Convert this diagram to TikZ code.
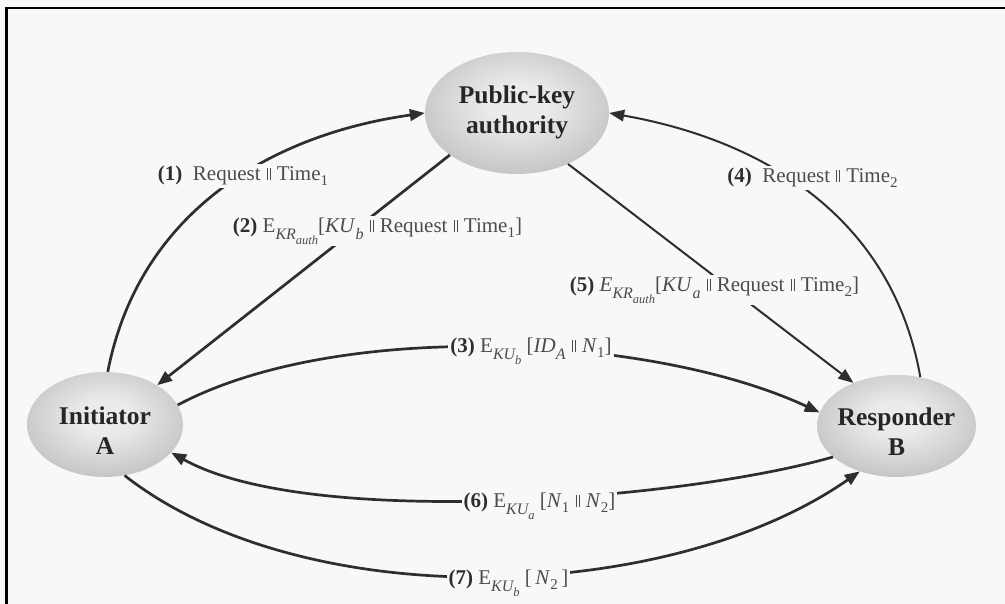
\documentclass[tikz,border=0pt]{standalone}
\usepackage{fontspec}
\setmainfont{Liberation Serif}
\usetikzlibrary{arrows.meta,shapes.geometric}

\definecolor{bg}{HTML}{F8F8F8}
\definecolor{ink}{HTML}{2E2E2E}
\definecolor{orbA}{HTML}{EBEBEB}
\definecolor{orbB}{HTML}{9C9C9C}

% soft grey sphere look for the three parties
\pgfdeclareradialshading{orb}{\pgfpoint{0bp}{4bp}}{%
  color(0bp)=(orbA); color(8bp)=(orbA); color(50bp)=(orbB); color(100bp)=(orbB)}

% small double bar used for concatenation
\newcommand\dbar{\hspace{0.3em}\raisebox{0.5pt}{\rule{0.8pt}{0.6em}}\hspace{2.2pt}\raisebox{0.5pt}{\rule{0.8pt}{0.6em}}\hspace{0.3em}}
% subscripts and second-level subscripts set at fixed sizes
\newcommand\sbs[1]{\raisebox{-0.3em}{\fontsize{16}{16}\selectfont #1}}
\newcommand\nsbs[1]{\raisebox{-0.22em}{\fontsize{15}{15}\selectfont #1}}
\newcommand\ssbs[1]{\raisebox{-0.3em}{\fontsize{12.5}{12.5}\selectfont #1}}
\newcommand\stepno[1]{{\bfseries\color{black!82}(#1)}}

\begin{document}
\begin{tikzpicture}[x=1pt,y=1pt,
  orbnode/.style={ellipse, inner sep=0pt, shading=orb, draw=none},
  orbtext/.style={align=center, inner sep=0pt, text=black!85,
    font=\fontsize{25.5}{30}\selectfont\bfseries},
  link/.style={draw=ink, -{Triangle[length=15pt,width=11.5pt]}},
  heavy/.style={link, line width=2.7pt},
  light/.style={link, line width=2pt},
  lab/.style={fill=bg, inner sep=2pt, anchor=base, text=black!70,
    font=\fontsize{21}{25}\selectfont},
  frameline/.style={line width=2.6pt, draw=black}]

\useasboundingbox (0,0) rectangle (1005,604);
\fill[bg] (0,0) rectangle (1005,604);
\draw[frameline] (6.5,0) -- (6.5,596) -- (1005,596);

% parties
\node[orbnode, minimum width=184pt, minimum height=122pt] (PK) at (517,491) {};
\node[orbtext] (PKt) at (517,492) {Public-key\\authority};
\node[orbnode, minimum width=156pt, minimum height=105pt] (A) at (105,179.5) {};
\node[orbtext] (At) at (105,173) {Initiator\\A};
\node[orbnode, minimum width=159pt, minimum height=102pt] (B) at (896.5,178) {};
\node[orbtext] (Bt) at (896.5,172) {Responder\\B};

% messages
\draw[heavy] (A.87) to[out=79,in=188] (PK.180);
\draw[heavy] (PK.212) -- (A.37);
\draw[heavy] (A.15) to[out=28,in=155,looseness=0.73] (B.170);
\draw[light] (B.64) to[out=100,in=350] (PK.0);
\draw[light] (PK.315) -- (B.135);
\draw[heavy] (B.206) to[out=196,in=331,looseness=0.61] (A.337);
\draw[heavy] (A.291) to[out=-38,in=215,looseness=0.80] (B.231);

% message labels
\node[lab] (L1) at (243,423) {\stepno{1}\hspace{0.5em}Request\dbar Time\nsbs{1}};
\node[lab] (L2) at (377.5,371) {\stepno{2} E\sbs{\itshape KR\ssbs{auth}}[\textit{KU}\sbs{\itshape b}\dbar Request\dbar Time\nsbs{1}]};
\node[lab] (L3) at (531,251) {\stepno{3} E\sbs{\itshape KU\ssbs{b}}\ [\textit{ID}\sbs{\itshape A}\dbar\textit{N}\nsbs{1}]};
\node[lab] (L4) at (812.5,421) {\stepno{4}\hspace{0.5em}Request\dbar Time\nsbs{2}};
\node[lab] (L5) at (714.5,312) {\stepno{5} \textit{E}\sbs{\itshape KR\ssbs{auth}}[\textit{KU}\sbs{\itshape a}\dbar Request\dbar Time\nsbs{2}]};
\node[lab] (L6) at (539.5,96) {\stepno{6} E\sbs{\itshape KU\ssbs{a}}\ [\textit{N}\nsbs{1}\dbar\textit{N}\nsbs{2}]};
\node[lab] (L7) at (508.5,19) {\stepno{7} E\sbs{\itshape KU\ssbs{b}}\ [\,\textit{N}\nsbs{2}\,]};
\end{tikzpicture}
\end{document}
